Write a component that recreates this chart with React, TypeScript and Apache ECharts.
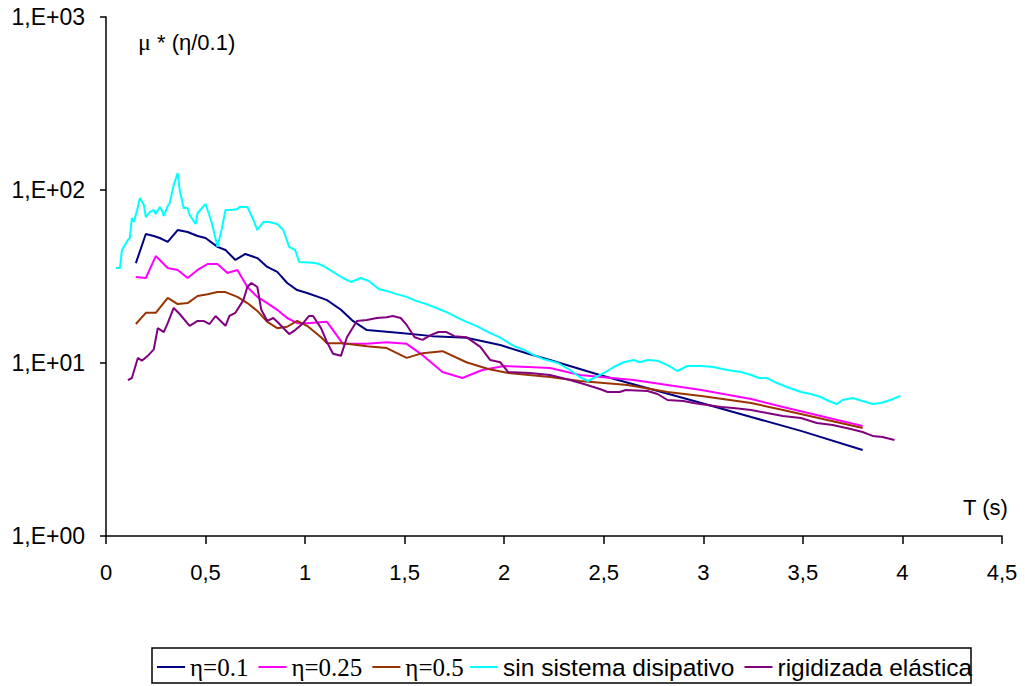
import React, { useEffect, useRef } from "react";
import * as echarts from "echarts";

// Period T (s) and ductility demand μ*(η/0.1) for each damping case
const eta01: [number, number][] = [
  [0.15, 37.8], [0.2, 55.7], [0.24, 54.2], [0.27, 52.8], [0.31, 50.1], [0.36, 58.7],
  [0.41, 57.2], [0.46, 54.2], [0.5, 52.8], [0.56, 46.9], [0.6, 45.0], [0.65, 39.4],
  [0.7, 42.7], [0.76, 40.4], [0.81, 35.9], [0.86, 33.6], [0.91, 29.0], [0.96, 26.4],
  [1.01, 25.4], [1.08, 23.8], [1.11, 23.1], [1.18, 20.3], [1.24, 17.5], [1.31, 15.5],
  [1.48, 14.9], [1.64, 14.3], [1.81, 14.0], [1.98, 12.7], [2.12, 11.3], [2.23, 10.4],
  [2.48, 8.52], [2.99, 5.87], [3.24, 4.87], [3.49, 4.05], [3.8, 3.14],
];

const eta025: [number, number][] = [
  [0.15, 31.4], [0.2, 31.0], [0.25, 41.5], [0.31, 35.4], [0.36, 34.5], [0.41, 31.0],
  [0.46, 34.5], [0.51, 37.3], [0.56, 37.3], [0.61, 33.1], [0.66, 34.5], [0.71, 27.5],
  [0.76, 24.1], [0.81, 22.2], [0.86, 20.3], [0.91, 18.2], [0.96, 17.0], [1.01, 17.0],
  [1.11, 17.3], [1.19, 12.9], [1.31, 12.9], [1.41, 13.2], [1.51, 12.9], [1.59, 11.1],
  [1.69, 8.87], [1.79, 8.19], [1.89, 9.11], [2.0, 9.61], [2.12, 9.48], [2.23, 9.36],
  [2.38, 8.52], [2.65, 7.97], [2.99, 6.98], [3.24, 6.19], [3.4, 5.57], [3.8, 4.32],
];

const eta05: [number, number][] = [
  [0.15, 16.8], [0.2, 19.5], [0.25, 19.5], [0.31, 23.8], [0.36, 21.9], [0.41, 22.2],
  [0.46, 24.4], [0.51, 25.0], [0.56, 25.7], [0.6, 25.7], [0.66, 24.1], [0.71, 22.2],
  [0.76, 20.0], [0.81, 17.3], [0.86, 15.9], [0.91, 16.2], [0.96, 17.5], [1.01, 16.4],
  [1.08, 14.1], [1.11, 13.0], [1.19, 13.0], [1.31, 12.5], [1.41, 12.2], [1.51, 10.7],
  [1.59, 11.4], [1.69, 11.7], [1.81, 10.1], [1.92, 9.23], [2.02, 8.75], [2.23, 8.3],
  [2.38, 7.87], [2.62, 7.46], [2.82, 6.8], [2.99, 6.45], [3.24, 5.87], [3.4, 5.35],
  [3.8, 4.21],
];

const sinSistema: [number, number][] = [
  [0.05, 35.4], [0.07, 35.4], [0.08, 45.0], [0.11, 51.4], [0.12, 52.8], [0.13, 68.9],
  [0.14, 65.3], [0.16, 79.8], [0.17, 89.9], [0.19, 81.9], [0.2, 69.8], [0.22, 74.6],
  [0.24, 76.6], [0.25, 72.6], [0.27, 79.8], [0.28, 76.6], [0.29, 70.8], [0.31, 80.8],
  [0.32, 84.1], [0.34, 106.9], [0.36, 125.4], [0.37, 100], [0.39, 78.7], [0.41, 78.7],
  [0.42, 71.7], [0.45, 63.6], [0.46, 73.6], [0.5, 83.0], [0.51, 76.6], [0.53, 65.3],
  [0.56, 46.9], [0.58, 58.7], [0.6, 76.6], [0.63, 76.6], [0.66, 77.6], [0.67, 79.8],
  [0.71, 79.8], [0.74, 67.1], [0.76, 58.7], [0.79, 65.3], [0.82, 65.3], [0.86, 63.6],
  [0.89, 58.7], [0.92, 46.9], [0.95, 45.0], [0.97, 38.4], [1.04, 38.0], [1.07, 37.3],
  [1.1, 35.9], [1.14, 33.6], [1.19, 31.0], [1.23, 29.4], [1.28, 31.0], [1.32, 29.8],
  [1.37, 26.8], [1.41, 26.1], [1.46, 25.0], [1.51, 24.1], [1.56, 22.8], [1.61, 21.9],
  [1.66, 20.8], [1.71, 19.7], [1.76, 18.4], [1.81, 17.3], [1.86, 16.4], [1.92, 15.1],
  [1.98, 14.0], [2.05, 12.5], [2.1, 11.9], [2.15, 11.1], [2.2, 10.5], [2.27, 10.0],
  [2.33, 9.11], [2.38, 8.3], [2.42, 7.87], [2.45, 8.19], [2.5, 8.75], [2.55, 9.48],
  [2.6, 10.1], [2.65, 10.4], [2.68, 10.1], [2.72, 10.4], [2.77, 10.3], [2.82, 9.73],
  [2.87, 8.99], [2.92, 9.61], [2.99, 9.61], [3.05, 9.48], [3.12, 9.11], [3.19, 8.87],
  [3.24, 8.52], [3.28, 8.19], [3.32, 8.19], [3.37, 7.66], [3.42, 7.27], [3.49, 6.8],
  [3.54, 6.62], [3.59, 6.36], [3.63, 6.03], [3.67, 5.79], [3.7, 6.11], [3.75, 6.28],
  [3.8, 6.03], [3.85, 5.79], [3.89, 5.87], [3.94, 6.11], [3.99, 6.45],
];

const rigidizada: [number, number][] = [
  [0.11, 7.97], [0.13, 8.19], [0.16, 10.7], [0.18, 10.3], [0.21, 11.0], [0.24, 12.0],
  [0.26, 15.9], [0.29, 15.1], [0.31, 17.0], [0.34, 20.8], [0.37, 19.2], [0.42, 16.4],
  [0.46, 17.5], [0.49, 17.5], [0.52, 16.8], [0.55, 18.7], [0.6, 16.4], [0.62, 18.7],
  [0.65, 19.5], [0.69, 23.1], [0.71, 27.5], [0.73, 29.0], [0.76, 27.5], [0.78, 20.3],
  [0.81, 17.5], [0.84, 18.2], [0.86, 17.3], [0.92, 14.7], [0.95, 15.5], [0.99, 17.0],
  [1.02, 18.7], [1.04, 18.7], [1.08, 15.9], [1.11, 13.2], [1.14, 11.3], [1.18, 11.0],
  [1.21, 14.1], [1.26, 17.5], [1.31, 17.7], [1.36, 18.2], [1.41, 18.4], [1.44, 18.7],
  [1.48, 18.2], [1.51, 16.6], [1.55, 14.1], [1.59, 13.6], [1.63, 14.5], [1.67, 15.1],
  [1.71, 15.1], [1.75, 14.3], [1.81, 14.1], [1.88, 12.4], [1.93, 10.4], [1.98, 10.1],
  [2.02, 8.87], [2.13, 8.75], [2.23, 8.52], [2.33, 7.97], [2.4, 7.56], [2.48, 7.07],
  [2.52, 6.8], [2.58, 6.8], [2.61, 6.98], [2.72, 6.89], [2.77, 6.62], [2.82, 6.11],
  [2.9, 6.03], [2.95, 5.87], [3.02, 5.72], [3.09, 5.57], [3.15, 5.49], [3.24, 5.35],
  [3.32, 5.14], [3.4, 4.94], [3.49, 4.81], [3.57, 4.5], [3.65, 4.38], [3.74, 4.15],
  [3.8, 3.99], [3.85, 3.79], [3.9, 3.73], [3.96, 3.59],
];

const seriesNames = ["η=0.1", "η=0.25", "η=0.5", "sin sistema disipativo", "rigidizada elástica"];
const seriesColors = ["#000080", "#FF00FF", "#993300", "#00FFFF", "#800080"];
const seriesData = [eta01, eta025, eta05, sinSistema, rigidizada];

const SANS = "Liberation Sans";
const SERIF = "Liberation Serif";

const legendCommon = {
  orient: "horizontal",
  icon: "rect",
  itemWidth: 28,
  itemHeight: 2,
  itemGap: 10,
  padding: 0,
};

export default function App() {
  const ref = useRef<HTMLDivElement>(null);

  useEffect(() => {
    if (!ref.current) return;
    const chart = echarts.init(ref.current, undefined, { renderer: "svg" });
    chart.setOption({
      animation: false,
      backgroundColor: "#ffffff",
      grid: { left: 106, right: 23, top: 17, bottom: 150, containLabel: false },
      xAxis: {
        type: "value",
        min: 0,
        max: 4.5,
        interval: 0.5,
        splitLine: { show: false },
        axisLine: { show: true, lineStyle: { color: "#000", width: 1.5 } },
        axisTick: { show: true, length: 8, lineStyle: { color: "#000", width: 1.5 } },
        axisLabel: {
          color: "#000",
          fontFamily: SANS,
          fontSize: 22,
          margin: 25,
          formatter: (v: number) => String(v).replace(".", ","),
        },
      },
      yAxis: {
        type: "log",
        logBase: 10,
        min: 1,
        max: 1000,
        splitLine: { show: false },
        minorTick: { show: false },
        axisLine: { show: true, lineStyle: { color: "#000", width: 1.5 } },
        axisTick: { show: true, length: 6, lineStyle: { color: "#000", width: 1.5 } },
        axisLabel: {
          color: "#000",
          fontFamily: SANS,
          fontSize: 23,
          margin: 21,
          formatter: (v: number) => "1,E+0" + Math.round(Math.log10(v)),
        },
      },
      legend: [
        {
          ...legendCommon,
          left: 157,
          top: 653,
          data: seriesNames.slice(0, 3),
          textStyle: { color: "#000", fontFamily: SERIF, fontSize: 25, lineHeight: 28 },
        },
        {
          ...legendCommon,
          left: 470,
          top: 653,
          data: seriesNames.slice(3),
          textStyle: { color: "#000", fontFamily: SANS, fontSize: 24.5, lineHeight: 28 },
        },
      ],
      graphic: [
        {
          type: "rect",
          shape: { x: 152, y: 648, width: 819, height: 35 },
          style: { fill: "none", stroke: "#000", lineWidth: 1.5 },
          silent: true,
        },
        {
          type: "text",
          left: 138,
          top: 30,
          style: {
            text: "{m|μ} * (η/0.1)",
            fontFamily: SANS,
            fontSize: 22,
            fill: "#000",
            rich: { m: { fontFamily: SERIF, fontSize: 24, fill: "#000" } },
          },
        },
        {
          type: "text",
          left: 963,
          top: 496,
          style: { text: "T (s)", fontFamily: SANS, fontSize: 22, fill: "#000" },
        },
      ],
      series: seriesData.map((d, i) => ({
        name: seriesNames[i],
        type: "line",
        data: d,
        symbol: "none",
        smooth: false,
        lineStyle: { color: seriesColors[i], width: 2 },
        itemStyle: { color: seriesColors[i] },
      })),
    });
    return () => chart.dispose();
  }, []);

  return (
    <div
      ref={ref}
      style={{ position: "fixed", left: 0, top: 0, width: 1025, height: 686, background: "#fff" }}
    />
  );
}
